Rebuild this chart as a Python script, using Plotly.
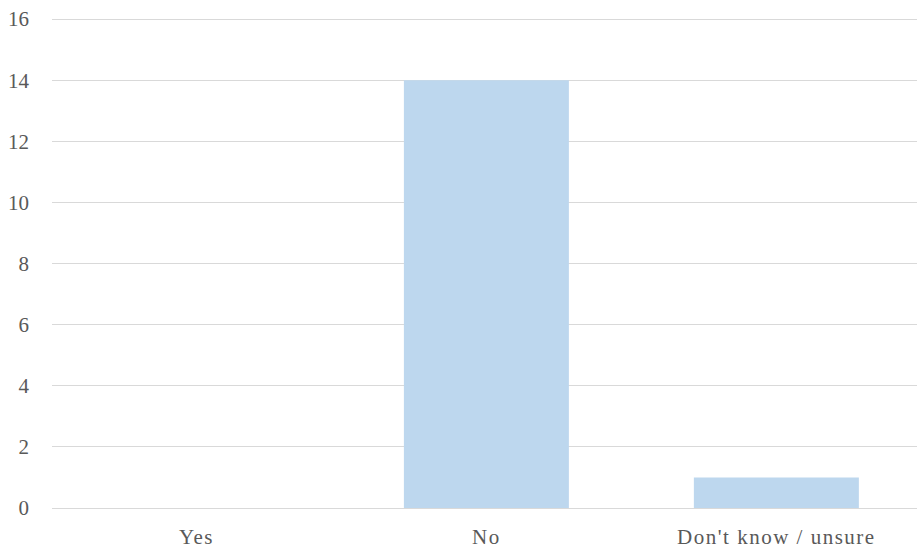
import plotly.graph_objects as go

categories = ["Yes", "No", "Don't know / unsure"]
values = [0, 14, 1]
y_ticks = [0, 2, 4, 6, 8, 10, 12, 14, 16]

fig = go.Figure(go.Bar(x=categories, y=values, marker=dict(color="#BDD7EE", line=dict(width=0)), hoverinfo="skip"))

serif = "Liberation Serif"
fig.update_layout(
    width=917, height=548,
    margin=dict(l=52, r=0, t=16, b=40),
    paper_bgcolor="white", plot_bgcolor="white",
    bargap=0.431,
    showlegend=False,
    font=dict(family=serif, size=21, color="#595959"),
    xaxis=dict(range=[-0.498, 2.485], showgrid=False, showline=False, ticks="", automargin=False,
               tickfont=dict(family=serif, size=21), ticklabelstandoff=14),
    yaxis=dict(range=[0, 16.1], tickvals=y_ticks, showgrid=True, gridcolor="#D9D9D9", gridwidth=1,
               zeroline=True, zerolinecolor="#D9D9D9", zerolinewidth=1, showline=False, ticks="", automargin=False,
               tickfont=dict(family=serif, size=21), ticklabelstandoff=22),
)

post = (
    "document.body.style.margin='0px';"
    "var s=document.createElement('style');"
    "s.innerHTML='.xtick text{letter-spacing:1.5px}';"
    "document.head.appendChild(s);"
)
fig.write_html("out.html", post_script=post, config={"displayModeBar": False})
